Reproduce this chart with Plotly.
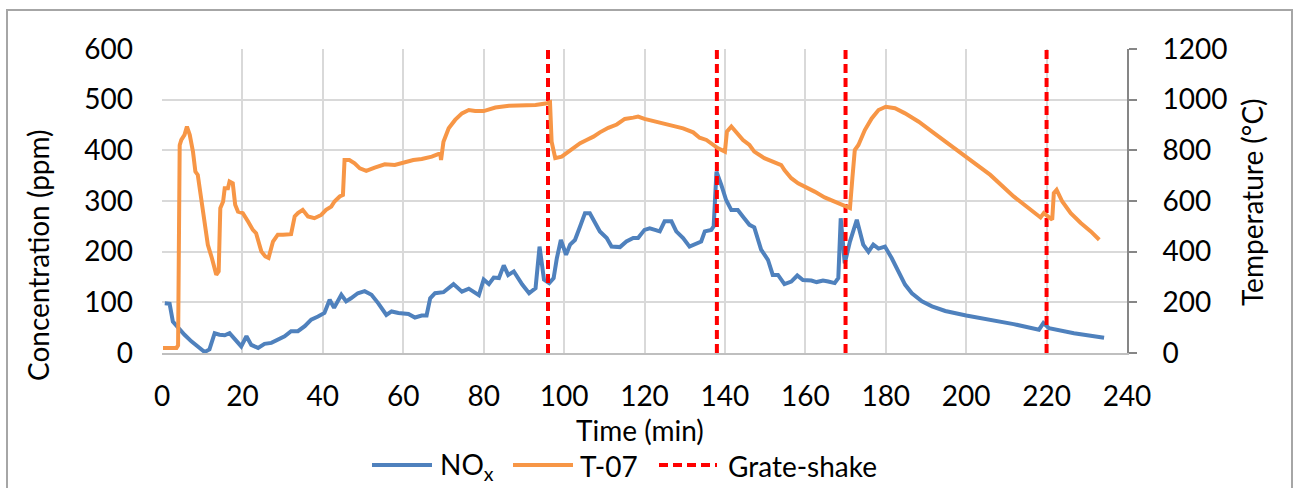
import plotly.graph_objects as go

# ---- data ----
nox_time = [0.7, 1.9, 2.7, 4.0, 5.6, 7.3, 8.9, 10.6, 11.8, 13.1, 14.3, 15.6, 16.8, 18.1, 19.7,
            21.0, 22.2, 23.9, 25.5, 27.2, 28.8, 30.5, 32.1, 33.8, 35.5, 37.1, 38.8, 40.4, 41.7,
            42.8, 44.6, 45.8, 47.0, 48.7, 50.4, 52.1, 53.8, 55.8, 57.1, 58.8, 61.3, 62.9, 64.6,
            65.8, 66.7, 67.9, 70.0, 72.5, 74.6, 76.3, 78.8, 80.0, 81.3, 82.5, 83.8, 85.0, 86.1,
            87.5, 89.6, 91.3, 92.9, 93.9, 95.0, 96.3, 97.4, 98.2, 99.2, 100.5, 101.5, 102.7,
            104.0, 105.2, 106.4, 107.7, 108.9, 110.6, 111.8, 113.9, 115.5, 117.2, 118.4, 120.0,
            121.3, 122.6, 123.8, 125.0, 126.7, 127.9, 129.6, 131.2, 132.9, 134.1, 135.0, 136.6,
            137.2, 137.9, 139.1, 140.3, 141.6, 143.2, 144.5, 146.1, 147.3, 149.0, 150.7, 151.9,
            153.2, 154.8, 156.5, 158.0, 159.4, 161.5, 162.8, 164.4, 165.7, 167.3, 168.2, 168.8,
            169.8, 171.1, 172.8, 174.4, 175.7, 176.9, 178.2, 179.8, 181.5, 183.2, 184.8, 186.5,
            189.0, 191.5, 194.8, 200.0, 206.0, 211.8, 218.1, 219.2, 220.6, 226.8, 234.3]
nox_ppm = [98, 97, 62, 49, 36, 23, 13, 2, 7, 39, 36, 35, 39, 26, 13,
           33, 16, 10, 18, 20, 26, 33, 43, 43, 53, 66, 72, 79, 105,
           89, 115, 102, 108, 118, 122, 115, 98, 75, 82, 79, 77, 70, 74,
           74, 108, 118, 120, 136, 121, 127, 114, 145, 136, 149, 148, 173, 154,
           161, 135, 118, 128, 210, 145, 138, 148, 187, 223, 194, 214, 223,
           250, 276, 276, 256, 240, 227, 210, 209, 220, 227, 227, 243,
           246, 243, 240, 260, 260, 240, 227, 210, 215, 220, 240, 243,
           250, 358, 332, 302, 282, 282, 269, 253, 248, 204, 184, 154,
           154, 136, 141, 153, 144, 143, 140, 143, 141, 138, 148, 266,
           177, 220, 263, 214, 200, 214, 206, 210, 187, 158, 135, 118,
           102, 92, 83, 74, 66, 57, 46, 59, 49, 39, 30]

temp_time = [0.25, 3.6, 4.0, 4.4, 4.8, 5.6, 6.2, 6.9, 7.7, 8.3, 8.9, 9.8, 10.6, 11.4, 12.4,
             13.1, 13.5, 14.1, 14.5, 15.2, 15.6, 16.4, 16.8, 17.6, 18.2, 18.9, 20.1, 21.4,
             22.6, 23.4, 24.7, 25.7, 26.5, 27.6, 28.8, 30.1, 32.1, 33.0, 33.8, 35.0, 36.3,
             37.9, 39.6, 40.8, 42.1, 42.9, 44.2, 45.0, 45.4, 46.6, 47.9, 49.2, 50.8, 52.9,
             55.4, 57.9, 60.0, 62.5, 64.6, 67.1, 69.2, 69.4, 70.0, 71.3, 72.9, 74.6, 76.3,
             77.9, 80.0, 82.9, 86.3, 89.6, 92.9, 95.8, 96.5, 96.9, 97.8, 99.4, 101.1, 102.3,
             104.0, 105.6, 107.3, 108.9, 111.0, 113.1, 115.1, 117.2, 118.4, 120.0, 122.1,
             124.6, 127.1, 129.6, 132.1, 133.7, 135.4, 137.0, 138.3, 140.0, 140.5, 141.6,
             142.8, 144.5, 146.1, 147.3, 149.8, 152.3, 154.0, 154.8, 156.5, 158.2, 160.0,
             162.3, 164.8, 167.3, 169.4, 171.1, 171.7, 172.3, 173.2, 174.8, 176.5, 178.2,
             180.0, 182.3, 184.8, 188.2, 191.5, 194.8, 200.0, 206.0, 211.8, 218.5, 219.3,
             220.2, 221.4, 221.8, 222.5, 223.9, 226.0, 228.5, 231.0, 233.1]
temp_c = [20, 20, 30, 820, 841, 861, 894, 861, 795, 716, 703, 598, 493, 427, 375,
          322, 309, 322, 572, 598, 650, 650, 677, 670, 585, 558, 552, 519,
          486, 473, 401, 381, 375, 440, 467, 467, 469, 539, 552, 565, 539,
          532, 545, 565, 578, 598, 618, 624, 762, 762, 749, 729, 719, 732,
          745, 742, 753, 762, 766, 775, 788, 762, 834, 887, 920, 946, 959,
          955, 955, 969, 976, 979, 979, 986, 990, 834, 769, 775, 795, 808,
          828, 841, 854, 871, 889, 902, 924, 929, 933, 924, 916,
          907, 896, 887, 871, 850, 841, 821, 808, 795, 874, 894,
          874, 841, 821, 795, 769, 755, 742, 722, 690, 670, 657,
          637, 614, 598, 585, 572, 690, 801, 821, 880, 926, 959,
          972, 966, 946, 913, 874, 834, 775, 703, 618, 535, 552,
          539, 526, 631, 644, 598, 552, 513, 480, 447]

grate_shake_times = [96, 138, 170, 220]
conc_range = [0, 600]
temp_range = [0, 1200]
time_range = [0, 240]

series_names = ["NO<sub>x</sub>", "T-07", "Grate-shake"]
series_colors = ["#4F81BD", "#F79646", "#FF0000"]
series_dash = ["solid", "solid", "9px,5px"]

FONT = "Lato, 'Open Sans', sans-serif"

gx, gy = [], []
for t in grate_shake_times:
    gx += [t, t, None]
    gy += [conc_range[0], conc_range[1], None]

fig = go.Figure()
fig.add_trace(go.Scatter(x=nox_time, y=nox_ppm, mode="lines", name=series_names[0],
                         line=dict(color=series_colors[0], width=4)))
fig.add_trace(go.Scatter(x=temp_time, y=temp_c, mode="lines", name=series_names[1], yaxis="y2",
                         line=dict(color=series_colors[1], width=4)))
fig.add_trace(go.Scatter(x=gx, y=gy, mode="lines", name=series_names[2],
                         line=dict(color=series_colors[2], width=4, dash=series_dash[2])))

# plot-area geometry in pixels (for placing the legend/titles in paper units)
L, R, T, B = 162, 1127, 49, 353
W, H = R - L, B - T


def px(xp):
    return (xp - L) / W


def py(yp):
    return (B - yp) / H


# legend drawn as line samples + text, matching the reference's long samples
leg_y = 465
leg_line_x = [(372, 432), (513, 573), (659, 717)]
leg_text_x = [438, 578, 726]
shapes = [
    dict(type="rect", xref="paper", yref="paper", x0=px(7), x1=px(1292), y0=py(493), y1=py(10),
         line=dict(color="#A6A6A6", width=2), fillcolor="rgba(0,0,0,0)", layer="below"),
]
annotations = [
    dict(text="Concentration (ppm)", xref="paper", yref="paper", x=px(38), y=py(255),
         textangle=-90, showarrow=False, xanchor="center", yanchor="middle"),
    dict(text="Temperature (°C)", xref="paper", yref="paper", x=px(1252), y=py(202),
         textangle=-90, showarrow=False, xanchor="center", yanchor="middle"),
    dict(text="Time (min)", xref="paper", yref="paper", x=px(640), y=py(430),
         showarrow=False, xanchor="center", yanchor="middle"),
]
for (x0, x1), xt, name, col, dash in zip(leg_line_x, leg_text_x, series_names,
                                         series_colors, series_dash):
    shapes.append(dict(type="line", xref="paper", yref="paper", x0=px(x0), x1=px(x1),
                       y0=py(leg_y), y1=py(leg_y), line=dict(color=col, width=4, dash=dash)))
    annotations.append(dict(text=name, xref="paper", yref="paper", x=px(xt), y=py(leg_y + 1),
                            showarrow=False, xanchor="left", yanchor="middle"))

fig.update_layout(
    width=1293, height=488,
    margin=dict(l=L, r=1293 - R, t=T, b=488 - B, autoexpand=False),
    paper_bgcolor="white", plot_bgcolor="white",
    font=dict(family=FONT, size=28, color="black"),
    showlegend=False,
    xaxis=dict(range=time_range, dtick=20, tick0=0, showgrid=True, gridcolor="#D9D9D9",
               gridwidth=2, zeroline=False, showline=True, linecolor="#BFBFBF", linewidth=2,
               ticks="", ticklabelstandoff=17),
    yaxis=dict(range=conc_range, dtick=100, tick0=0, showgrid=True, gridcolor="#D9D9D9",
               gridwidth=2, zeroline=False, showline=False, ticks="", ticklabelstandoff=28),
    yaxis2=dict(range=temp_range, dtick=200, tick0=0, overlaying="y", side="right",
                showgrid=False, zeroline=False, showline=True, linecolor="#868686",
                linewidth=2, ticks="outside", ticklen=8, tickwidth=2, tickcolor="#868686",
                ticklabelstandoff=20),
    annotations=annotations,
    shapes=shapes,
)

fig.write_html("out.html")
